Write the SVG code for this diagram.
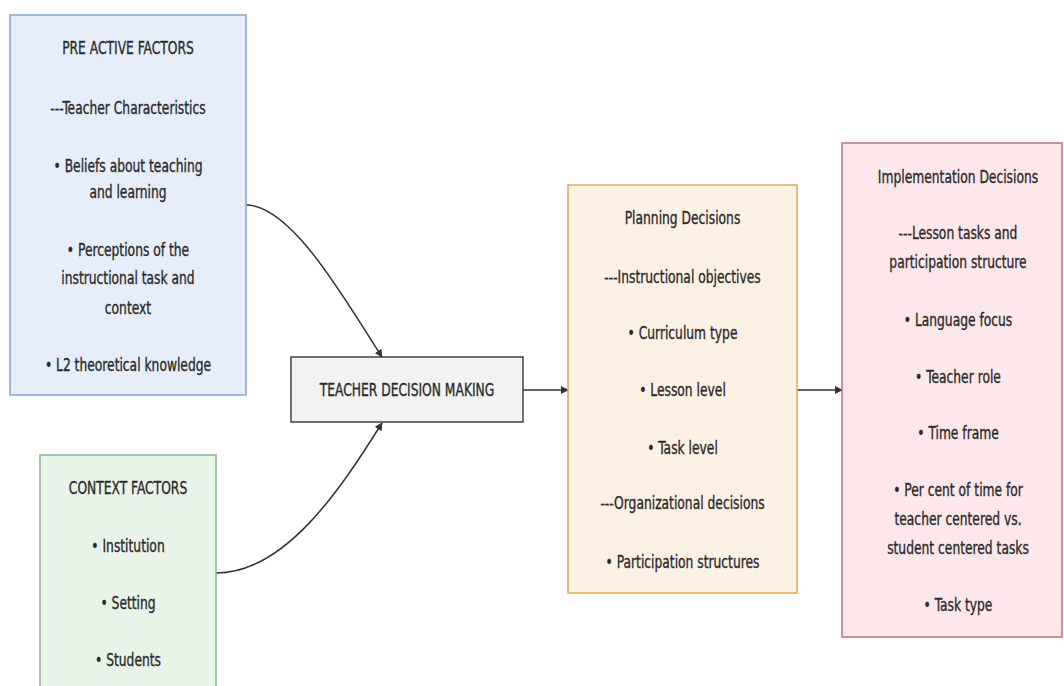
<svg xmlns="http://www.w3.org/2000/svg" width="1064" height="686" viewBox="0 0 1064 686">
<defs>
<marker id="arrow" viewBox="0 0 10 10" refX="9" refY="5" markerWidth="8" markerHeight="8" markerUnits="userSpaceOnUse" orient="auto">
<path d="M0,0 L10,5 L0,10 z" fill="#333333"/>
</marker>
<style>
text{font-family:"DejaVu Sans Condensed","DejaVu Sans",sans-serif;font-size:18px;fill:#2a2a2a;stroke:#2a2a2a;stroke-width:0.35;text-anchor:middle}
.edge{fill:none;stroke:#333333;stroke-width:1.5;marker-end:url(#arrow)}
.nodebox{stroke-width:1.5}
</style>
</defs>
<rect width="1064" height="686" fill="#ffffff"/>
<g id="connectors">
<path class="edge" d="M246,205 C292,205 345,300 382,357"/>
<path class="edge" d="M216,573 C285,573 340,490 382,423"/>
<path class="edge" d="M523,390 L568,390"/>
<path class="edge" d="M797,390 L842,390"/>
</g>
<g id="preactive">
<rect class="nodebox" x="10" y="15" width="236" height="380" fill="#e5eefa" stroke="#7fa4d4"/>
<g transform="translate(128,0) scale(0.76,1)">
<text x="0" y="54">PRE ACTIVE FACTORS</text>
<text x="0" y="114">---Teacher Characteristics</text>
<text x="0" y="172">• Beliefs about teaching</text>
<text x="0" y="198">and learning</text>
<text x="0" y="256">• Perceptions of the</text>
<text x="0" y="284">instructional task and</text>
<text x="0" y="314">context</text>
<text x="0" y="371">• L2 theoretical knowledge</text>
</g>
</g>
<g id="context">
<rect class="nodebox" x="40" y="455" width="176" height="260" fill="#e8f4e8" stroke="#86b886"/>
<g transform="translate(128,0) scale(0.76,1)">
<text x="0" y="494">CONTEXT FACTORS</text>
<text x="0" y="552">• Institution</text>
<text x="0" y="609">• Setting</text>
<text x="0" y="666">• Students</text>
</g>
</g>
<g id="decision">
<rect class="nodebox" x="291" y="357" width="232" height="65" fill="#f2f2f2" stroke="#444444" stroke-width="2"/>
<g transform="translate(407,0) scale(0.76,1)">
<text x="0" y="396">TEACHER DECISION MAKING</text>
</g>
</g>
<g id="planning">
<rect class="nodebox" x="568" y="185" width="229" height="408" fill="#fdf1e4" stroke="#e2a850"/>
<g transform="translate(682.5,0) scale(0.76,1)">
<text x="0" y="224">Planning Decisions</text>
<text x="0" y="283">---Instructional objectives</text>
<text x="0" y="339">• Curriculum type</text>
<text x="0" y="396">• Lesson level</text>
<text x="0" y="454">• Task level</text>
<text x="0" y="509">---Organizational decisions</text>
<text x="0" y="568">• Participation structures</text>
</g>
</g>
<g id="implementation">
<rect class="nodebox" x="842" y="143" width="220" height="494" fill="#fde7ea" stroke="#cc6b7c"/>
<g transform="translate(958,0) scale(0.76,1)">
<text x="0" y="183">Implementation Decisions</text>
<text x="0" y="239">---Lesson tasks and</text>
<text x="0" y="268">participation structure</text>
<text x="0" y="326">• Language focus</text>
<text x="0" y="383">• Teacher role</text>
<text x="0" y="439">• Time frame</text>
<text x="0" y="496">• Per cent of time for</text>
<text x="0" y="525">teacher centered vs.</text>
<text x="0" y="554">student centered tasks</text>
<text x="0" y="611">• Task type</text>
</g>
</g>
</svg>
